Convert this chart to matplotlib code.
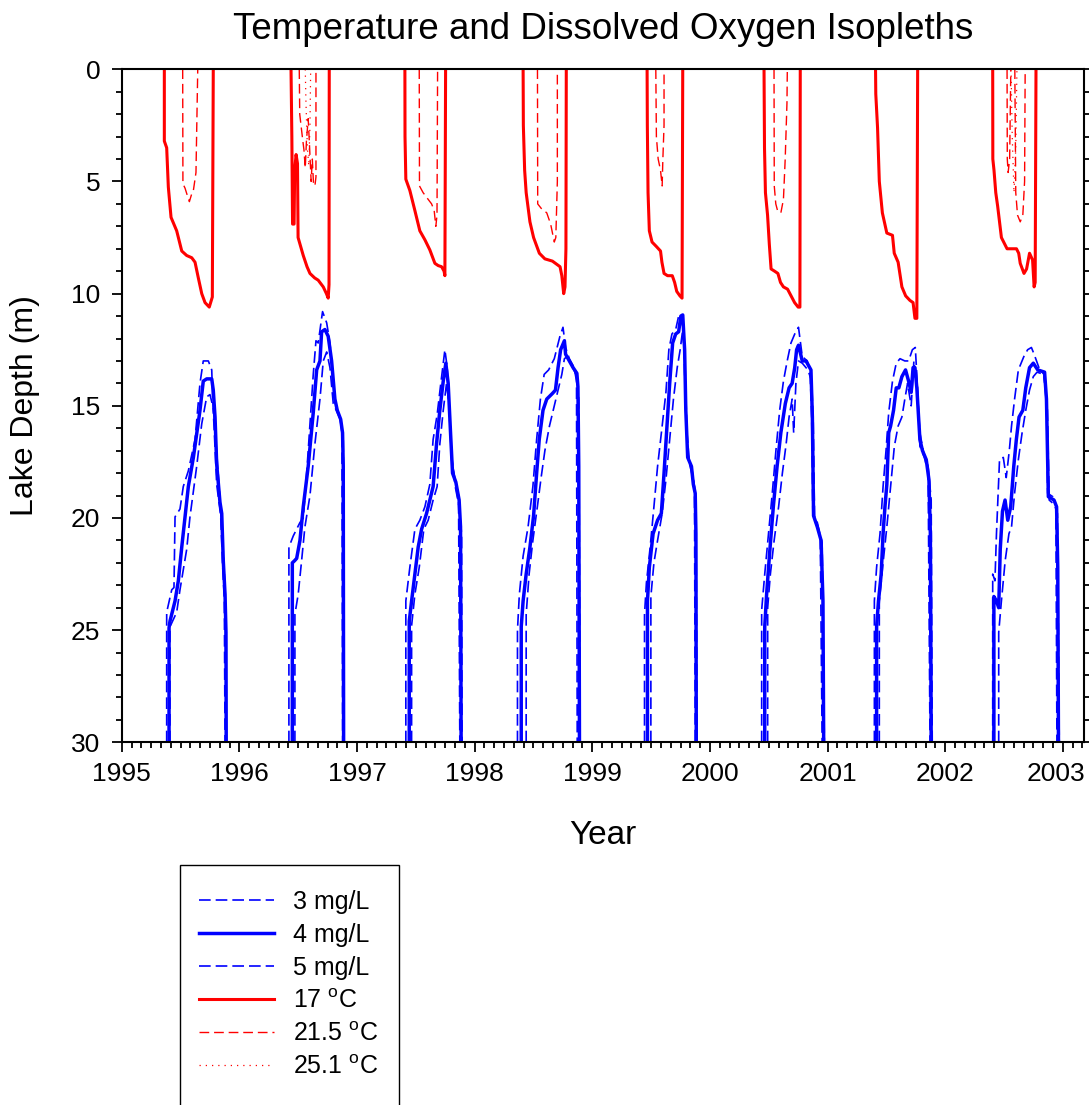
import matplotlib
matplotlib.use('Agg')
import matplotlib.pyplot as plt
from matplotlib.lines import Line2D
from matplotlib.patches import Rectangle
from matplotlib.ticker import MultipleLocator
from matplotlib.transforms import ScaledTranslation

plt.rcParams['font.family'] = ['Liberation Sans', 'DejaVu Sans']
plt.rcParams['mathtext.fontset'] = 'custom'
plt.rcParams['mathtext.rm'] = 'Liberation Sans'

# ==========================================
# Isopleths: (decimal year, depth in m)
# ==========================================
years = list(range(1995, 2004))

temp_17 = {
    1995: [(1995.362, 0), (1995.362, 3.2), (1995.382, 3.5), (1995.396, 5.25), (1995.419, 6.6), (1995.467, 7.2),
           (1995.510, 8.1), (1995.552, 8.3), (1995.595, 8.4), (1995.623, 8.6), (1995.651, 9.3), (1995.680, 10.0),
           (1995.708, 10.4), (1995.744, 10.6), (1995.770, 10.15), (1995.778, 0)],
    1996: [(1996.439, 0), (1996.446, 3.0), (1996.452, 6.9), (1996.465, 6.9), (1996.470, 4.5), (1996.482, 3.8),
           (1996.494, 4.2), (1996.499, 7.5), (1996.510, 7.7), (1996.543, 8.3), (1996.575, 8.8), (1996.600, 9.1),
           (1996.640, 9.3), (1996.670, 9.4), (1996.713, 9.7), (1996.740, 10.0), (1996.755, 10.2), (1996.762, 9.6),
           (1996.764, 0)],
    1997: [(1997.407, 0), (1997.408, 3.0), (1997.415, 4.9), (1997.449, 5.4), (1997.492, 6.3), (1997.534, 7.2),
           (1997.577, 7.6), (1997.619, 8.05), (1997.662, 8.65), (1997.690, 8.75), (1997.719, 8.8), (1997.740, 9.0),
           (1997.747, 9.2), (1997.753, 0)],
    1998: [(1998.412, 0), (1998.414, 2.5), (1998.425, 4.5), (1998.438, 5.5), (1998.470, 6.8), (1998.501, 7.5),
           (1998.550, 8.2), (1998.597, 8.45), (1998.661, 8.55), (1998.726, 8.8), (1998.741, 9.2), (1998.757, 10.0),
           (1998.768, 9.7), (1998.776, 8.0), (1998.779, 0)],
    1999: [(1999.466, 0), (1999.468, 2.5), (1999.474, 5.5), (1999.485, 7.2), (1999.508, 7.7), (1999.545, 7.9),
           (1999.580, 8.1), (1999.592, 8.6), (1999.610, 9.1), (1999.640, 9.2), (1999.680, 9.2), (1999.700, 9.5),
           (1999.718, 9.9), (1999.745, 10.1), (1999.763, 10.2), (1999.769, 0)],
    2000: [(2000.460, 0), (2000.464, 3.5), (2000.472, 5.5), (2000.490, 6.5), (2000.505, 7.8), (2000.520, 8.9),
           (2000.550, 9.0), (2000.578, 9.1), (2000.600, 9.5), (2000.625, 9.7), (2000.660, 9.8), (2000.690, 10.1),
           (2000.720, 10.4), (2000.750, 10.6), (2000.765, 10.6), (2000.768, 0)],
    2001: [(2001.408, 0), (2001.410, 1.1), (2001.425, 2.6), (2001.440, 5.0), (2001.466, 6.4), (2001.504, 7.3),
           (2001.552, 7.4), (2001.567, 8.2), (2001.600, 8.6), (2001.632, 9.7), (2001.664, 10.1), (2001.700, 10.3),
           (2001.727, 10.4), (2001.743, 11.1), (2001.759, 11.1), (2001.766, 0)],
    2002: [(2002.404, 0), (2002.405, 4.0), (2002.415, 4.5), (2002.430, 5.5), (2002.446, 6.1), (2002.478, 7.5),
           (2002.526, 8.0), (2002.606, 8.0), (2002.625, 8.2), (2002.638, 8.65), (2002.670, 9.1), (2002.692, 8.9),
           (2002.717, 8.2), (2002.743, 8.5), (2002.756, 9.7), (2002.765, 9.5), (2002.772, 0)],
}

temp_215 = [
    [(1995.518, 0), (1995.520, 5.1), (1995.538, 5.3), (1995.556, 5.6), (1995.575, 5.9), (1995.592, 5.6),
     (1995.609, 5.4), (1995.631, 4.6), (1995.646, 0)],
    [(1996.509, 0), (1996.513, 2.0), (1996.535, 3.0), (1996.549, 3.6), (1996.560, 4.4), (1996.570, 3.2),
     (1996.585, 2.2), (1996.597, 3.5), (1996.610, 5.0), (1996.620, 4.0), (1996.630, 5.1), (1996.642, 5.2),
     (1996.651, 4.8), (1996.651, 0)],
    [(1997.529, 0), (1997.531, 5.2), (1997.562, 5.5), (1997.605, 5.8), (1997.634, 6.0), (1997.656, 6.3),
     (1997.670, 7.0), (1997.680, 6.5), (1997.685, 0)],
    [(1998.534, 0), (1998.536, 6.0), (1998.566, 6.2), (1998.613, 6.4), (1998.646, 6.9), (1998.677, 7.7),
     (1998.690, 7.5), (1998.703, 5.0), (1998.703, 0)],
    [(1999.540, 0), (1999.545, 3.0), (1999.560, 4.0), (1999.580, 4.5), (1999.594, 5.2), (1999.600, 4.0),
     (1999.610, 2.5), (1999.610, 0)],
    [(2000.545, 0), (2000.547, 5.2), (2000.560, 6.0), (2000.575, 6.3), (2000.603, 6.4), (2000.625, 5.8),
     (2000.640, 4.0), (2000.655, 1.5), (2000.658, 0)],
    [(2002.526, 0), (2002.528, 4.0), (2002.535, 4.6), (2002.548, 4.0), (2002.558, 0)],
    [(2002.592, 0), (2002.600, 5.5), (2002.615, 6.5), (2002.638, 6.8), (2002.660, 6.5), (2002.675, 5.0),
     (2002.680, 0)],
]

temp_251 = [
    [(1996.560, 0), (1996.566, 1.5), (1996.578, 3.5), (1996.590, 4.3), (1996.600, 2.5), (1996.606, 0)],
    [(2002.560, 0), (2002.570, 3.0), (2002.585, 5.5), (2002.600, 3.5), (2002.610, 0)],
]

do_4 = {
    1995: [(1995.402, 30), (1995.402, 24.9), (1995.410, 24.6), (1995.453, 23.7), (1995.481, 22.8), (1995.510, 21.3),
           (1995.566, 18.6), (1995.609, 17.3), (1995.665, 15.2), (1995.693, 13.9), (1995.722, 13.8), (1995.765, 13.8),
           (1995.778, 14.3), (1995.793, 15.5), (1995.807, 17.6), (1995.835, 19.3), (1995.850, 19.8), (1995.863, 21.9),
           (1995.878, 23.4), (1995.886, 25.1), (1995.888, 30)],
    1996: [(1996.450, 30), (1996.450, 22.0), (1996.470, 21.9), (1996.487, 21.8), (1996.515, 21.0), (1996.543, 19.5),
           (1996.585, 17.7), (1996.628, 15.3), (1996.657, 13.4), (1996.685, 13.0), (1996.699, 11.7), (1996.727, 11.6),
           (1996.755, 11.9), (1996.784, 13.0), (1996.812, 14.7), (1996.832, 15.2), (1996.861, 15.6), (1996.877, 16.2),
           (1996.883, 17.7), (1996.886, 30)],
    1997: [(1997.444, 30), (1997.444, 24.6), (1997.464, 23.7), (1997.492, 22.5), (1997.520, 21.3), (1997.549, 20.5),
           (1997.591, 19.8), (1997.619, 19.2), (1997.647, 18.6), (1997.676, 16.7), (1997.704, 15.2), (1997.733, 13.9),
           (1997.755, 13.1), (1997.775, 14.0), (1997.795, 16.2), (1997.812, 18.0), (1997.840, 18.4), (1997.868, 19.2),
           (1997.880, 20.4), (1997.885, 30)],
    1998: [(1998.396, 30), (1998.396, 24.85), (1998.412, 23.7), (1998.438, 22.5), (1998.470, 21.3), (1998.501, 19.9),
           (1998.527, 18.0), (1998.549, 16.5), (1998.581, 15.2), (1998.613, 14.7), (1998.661, 14.45), (1998.687, 14.3),
           (1998.709, 13.3), (1998.731, 12.5), (1998.763, 12.1), (1998.773, 12.7), (1998.805, 13.0), (1998.837, 13.3),
           (1998.869, 13.55), (1998.878, 14.15), (1998.885, 17.7), (1998.891, 30)],
    1999: [(1999.469, 30), (1999.469, 23.7), (1999.485, 22.2), (1999.517, 20.7), (1999.555, 20.1), (1999.587, 19.8),
           (1999.610, 18.0), (1999.635, 15.9), (1999.658, 14.0), (1999.683, 12.2), (1999.709, 11.8), (1999.734, 11.7),
           (1999.753, 11.0), (1999.769, 10.95), (1999.785, 12.5), (1999.795, 15.2), (1999.811, 17.3), (1999.843, 17.7),
           (1999.859, 18.5), (1999.875, 18.9), (1999.881, 20.7), (1999.884, 30)],
    2000: [(2000.466, 30), (2000.466, 24.85), (2000.482, 23.4), (2000.507, 21.6), (2000.539, 19.5), (2000.571, 17.7),
           (2000.603, 16.2), (2000.641, 14.9), (2000.673, 14.2), (2000.699, 14.0), (2000.721, 13.3), (2000.737, 12.5),
           (2000.753, 12.3), (2000.785, 13.0), (2000.817, 13.0), (2000.859, 13.4), (2000.871, 15.5), (2000.881, 19.9),
           (2000.913, 20.4), (2000.945, 21.0), (2000.961, 23.7), (2000.967, 30)],
    2001: [(2001.417, 30), (2001.417, 24.85), (2001.433, 23.7), (2001.456, 22.5), (2001.472, 20.7), (2001.488, 19.5),
           (2001.504, 18.5), (2001.520, 16.2), (2001.536, 15.9), (2001.561, 15.2), (2001.584, 14.2), (2001.606, 14.2),
           (2001.632, 13.7), (2001.663, 13.4), (2001.689, 13.9), (2001.711, 14.4), (2001.727, 13.3), (2001.743, 13.3),
           (2001.759, 14.2), (2001.785, 16.5), (2001.807, 17.0), (2001.839, 17.4), (2001.862, 18.3), (2001.874, 20.7),
           (2001.881, 30)],
    2002: [(2002.414, 30), (2002.414, 23.5), (2002.436, 23.7), (2002.455, 24.0), (2002.468, 21.4), (2002.487, 19.7),
           (2002.509, 19.2), (2002.532, 20.1), (2002.557, 19.5), (2002.583, 17.7), (2002.605, 16.5), (2002.628, 15.5),
           (2002.660, 15.2), (2002.685, 14.2), (2002.717, 13.3), (2002.749, 13.1), (2002.787, 13.4), (2002.845, 13.5),
           (2002.861, 14.7), (2002.877, 19.05), (2002.925, 19.2), (2002.947, 19.5), (2002.957, 22.2), (2002.963, 30)],
}

do_5 = {
    1995: [(1995.382, 30), (1995.382, 24.2), (1995.425, 23.2), (1995.444, 23.1), (1995.453, 19.95), (1995.495, 19.6),
           (1995.523, 18.6), (1995.566, 17.9), (1995.623, 16.5), (1995.665, 14.0), (1995.693, 13.0), (1995.736, 13.0),
           (1995.765, 13.4), (1995.773, 14.7), (1995.787, 16.2), (1995.807, 18.5), (1995.841, 19.9), (1995.858, 22.2),
           (1995.872, 23.7), (1995.878, 30)],
    1996: [(1996.421, 30), (1996.421, 21.3), (1996.458, 20.8), (1996.515, 20.2), (1996.543, 20.0), (1996.557, 19.1),
           (1996.585, 17.0), (1996.628, 13.6), (1996.651, 12.1), (1996.670, 12.2), (1996.707, 10.8), (1996.742, 11.3),
           (1996.770, 12.2), (1996.798, 14.0), (1996.821, 15.0), (1996.855, 15.5), (1996.872, 16.2), (1996.878, 30)],
    1997: [(1997.415, 30), (1997.415, 23.7), (1997.449, 22.2), (1997.492, 20.5), (1997.534, 20.1), (1997.577, 19.5),
           (1997.619, 18.5), (1997.647, 16.5), (1997.681, 15.4), (1997.710, 14.1), (1997.747, 12.5), (1997.767, 13.3),
           (1997.784, 15.2), (1997.804, 17.4), (1997.835, 18.3), (1997.863, 19.0), (1997.874, 30)],
    1998: [(1998.364, 30), (1998.364, 25.0), (1998.380, 23.4), (1998.412, 21.7), (1998.454, 20.4), (1998.495, 18.6),
           (1998.527, 16.5), (1998.559, 14.7), (1998.591, 13.6), (1998.629, 13.4), (1998.677, 12.9), (1998.725, 11.9),
           (1998.751, 11.5), (1998.773, 12.4), (1998.805, 12.9), (1998.846, 13.3), (1998.866, 13.9), (1998.872, 30)],
    1999: [(1999.444, 30), (1999.444, 24.3), (1999.460, 22.9), (1999.492, 21.3), (1999.524, 19.5), (1999.555, 17.7),
           (1999.594, 15.9), (1999.626, 14.4), (1999.651, 12.5), (1999.677, 11.8), (1999.709, 11.6), (1999.734, 11.0),
           (1999.760, 10.9), (1999.779, 12.2), (1999.792, 15.0), (1999.811, 17.1), (1999.849, 17.9), (1999.869, 18.6),
           (1999.875, 30)],
    2000: [(2000.440, 30), (2000.440, 24.1), (2000.466, 22.5), (2000.498, 20.7), (2000.530, 18.9), (2000.561, 17.0),
           (2000.593, 15.2), (2000.625, 13.9), (2000.657, 13.0), (2000.689, 12.2), (2000.721, 11.8), (2000.753, 11.5),
           (2000.785, 12.8), (2000.827, 13.0), (2000.852, 13.5), (2000.865, 15.5), (2000.875, 19.8), (2000.913, 20.2),
           (2000.938, 20.8), (2000.954, 30)],
    2001: [(2001.398, 30), (2001.398, 23.7), (2001.417, 22.2), (2001.446, 20.7), (2001.472, 18.6), (2001.497, 17.0),
           (2001.520, 15.3), (2001.552, 13.9), (2001.584, 13.1), (2001.616, 12.9), (2001.657, 13.0), (2001.689, 13.0),
           (2001.721, 12.5), (2001.746, 12.4), (2001.765, 14.2), (2001.785, 16.8), (2001.823, 17.3), (2001.855, 18.0),
           (2001.871, 30)],
    2002: [(2002.404, 30), (2002.404, 22.5), (2002.423, 22.8), (2002.436, 20.7), (2002.462, 17.4), (2002.494, 17.3),
           (2002.519, 18.2), (2002.545, 17.0), (2002.564, 15.9), (2002.590, 14.7), (2002.622, 13.4), (2002.669, 12.8),
           (2002.701, 12.5), (2002.733, 12.4), (2002.756, 12.7), (2002.797, 13.3), (2002.839, 13.6), (2002.861, 14.9),
           (2002.871, 18.9), (2002.915, 19.05), (2002.941, 19.4), (2002.950, 30)],
}

do_3 = {
    1995: [(1995.410, 30), (1995.410, 24.85), (1995.467, 24.2), (1995.495, 23.2), (1995.552, 21.4), (1995.580, 19.95),
           (1995.637, 17.7), (1995.680, 15.8), (1995.722, 14.6), (1995.750, 14.5), (1995.778, 15.1), (1995.801, 16.6),
           (1995.821, 18.1), (1995.844, 19.9), (1995.863, 21.5), (1995.880, 23.4), (1995.889, 30)],
    1996: [(1996.472, 30), (1996.472, 24.3), (1996.500, 23.4), (1996.529, 21.9), (1996.557, 20.4), (1996.600, 19.0),
           (1996.642, 16.7), (1996.685, 14.7), (1996.713, 13.0), (1996.742, 12.6), (1996.770, 13.3), (1996.798, 14.9),
           (1996.832, 15.3), (1996.866, 15.7), (1996.883, 16.5), (1996.891, 30)],
    1997: [(1997.464, 30), (1997.464, 24.8), (1997.492, 23.4), (1997.529, 22.2), (1997.568, 20.5), (1997.605, 20.1),
           (1997.647, 19.2), (1997.681, 18.6), (1997.704, 16.7), (1997.733, 15.2), (1997.761, 14.0), (1997.784, 15.0),
           (1997.804, 17.2), (1997.835, 18.6), (1997.868, 19.5), (1997.889, 20.7), (1997.893, 30)],
    1998: [(1998.438, 30), (1998.438, 24.3), (1998.463, 22.5), (1998.495, 21.0), (1998.533, 19.5), (1998.565, 18.2),
           (1998.597, 17.0), (1998.636, 15.9), (1998.677, 15.0), (1998.709, 14.3), (1998.741, 13.6), (1998.763, 12.9),
           (1998.789, 12.8), (1998.827, 13.2), (1998.869, 13.7), (1998.885, 14.7), (1998.897, 30)],
    1999: [(1999.498, 30), (1999.498, 23.5), (1999.524, 22.0), (1999.555, 21.0), (1999.594, 19.8), (1999.626, 18.3),
           (1999.658, 16.5), (1999.690, 14.7), (1999.722, 13.3), (1999.747, 12.5), (1999.769, 11.6), (1999.789, 13.3),
           (1999.805, 16.2), (1999.827, 17.6), (1999.859, 18.3), (1999.881, 19.1), (1999.891, 30)],
    2000: [(2000.491, 30), (2000.491, 24.0), (2000.514, 22.5), (2000.546, 21.0), (2000.584, 19.5), (2000.616, 18.0),
           (2000.648, 16.7), (2000.673, 15.5), (2000.699, 14.7), (2000.712, 16.2), (2000.731, 14.0), (2000.753, 13.0),
           (2000.785, 13.1), (2000.833, 13.4), (2000.865, 13.9), (2000.878, 15.6), (2000.890, 20.1), (2000.922, 20.5),
           (2000.954, 21.1), (2000.973, 30)],
    2001: [(2001.440, 30), (2001.440, 23.7), (2001.472, 22.0), (2001.504, 20.4), (2001.536, 18.6), (2001.568, 16.8),
           (2001.600, 15.9), (2001.632, 15.5), (2001.657, 14.7), (2001.680, 14.0), (2001.711, 15.0), (2001.734, 13.0),
           (2001.759, 14.0), (2001.785, 16.2), (2001.817, 17.1), (2001.855, 17.7), (2001.881, 19.2), (2001.890, 30)],
    2002: [(2002.455, 30), (2002.455, 25.1), (2002.478, 23.7), (2002.510, 21.9), (2002.542, 20.7), (2002.564, 20.4),
           (2002.590, 18.9), (2002.622, 17.4), (2002.654, 16.2), (2002.685, 15.2), (2002.717, 14.3), (2002.749, 13.7),
           (2002.781, 13.5), (2002.839, 13.6), (2002.868, 15.0), (2002.884, 19.2), (2002.928, 19.4), (2002.954, 19.8),
           (2002.970, 30)],
}

RED = '#ff0000'
BLUE = '#0000ff'
BLUE_DASH = dict(color=BLUE, lw=1.2, dashes=(7, 3))
RED_DASH = dict(color=RED, lw=1.0, dashes=(7, 3.5))
RED_DOT = dict(color=RED, lw=0.9, dashes=(1, 4))


def draw(ax, pts, **kw):
    t, d = zip(*pts)
    ax.plot(t, d, **kw)


fig = plt.figure(figsize=(10.89, 11.05), dpi=100)
ax = fig.add_axes([0.1118, 0.3282, 0.8836, 0.6091])

for pts in do_5.values():
    draw(ax, pts, **BLUE_DASH)
for pts in do_3.values():
    draw(ax, pts, **BLUE_DASH)
for pts in do_4.values():
    draw(ax, pts, color=BLUE, lw=2.5)

for pts in temp_251:
    draw(ax, pts, **RED_DOT)
for pts in temp_215:
    draw(ax, pts, **RED_DASH)
for pts in temp_17.values():
    draw(ax, pts, color=RED, lw=2.2)

ax.set_xlim(1995, 2003.18)
ax.set_ylim(30, 0)
ax.set_xticks(years)
ax.set_xticklabels([str(y) for y in years])
ax.xaxis.set_minor_locator(MultipleLocator(1 / 12))
ax.yaxis.set_major_locator(MultipleLocator(5))
ax.yaxis.set_minor_locator(MultipleLocator(1))

for s in ax.spines.values():
    s.set_linewidth(1.5)
ax.tick_params(which='both', direction='out', width=1.3, labelsize=19, right=True, top=False)
ax.tick_params(which='major', length=7.5)
ax.tick_params(which='minor', length=4.5)
ax.tick_params(axis='x', pad=7)
ax.tick_params(axis='y', pad=8)

# last year label sits on the figure edge, nudge it in a little
last = ax.get_xticklabels()[-1]
last.set_transform(last.get_transform() + ScaledTranslation(-5 / 72, 0, fig.dpi_scale_trans))

ax.set_title('Temperature and Dissolved Oxygen Isopleths', fontsize=26.5, pad=22)
ax.set_xlabel('Year', fontsize=24)
ax.set_ylabel('Lake Depth (m)', fontsize=23)
ax.xaxis.set_label_coords(0.5, -0.115)
ax.yaxis.set_label_coords(-0.085, 0.5)

# legend box runs off the bottom of the figure
fig.patches.append(Rectangle((0.1653, -0.02), 0.2014, 0.2372, transform=fig.transFigure,
                             fill=False, edgecolor='black', lw=1.0))
handles = [
    Line2D([], [], **BLUE_DASH),
    Line2D([], [], color=BLUE, lw=2.5),
    Line2D([], [], **BLUE_DASH),
    Line2D([], [], color=RED, lw=2.2),
    Line2D([], [], **RED_DASH),
    Line2D([], [], **RED_DOT),
]
labels = ['3 mg/L', '4 mg/L', '5 mg/L', '17 $^\\mathrm{o}$C', '21.5 $^\\mathrm{o}$C', '25.1 $^\\mathrm{o}$C']
fig.legend(handles, labels, loc='upper left', bbox_to_anchor=(0.1827, 0.1950), frameon=False,
           fontsize=18, handlelength=3.0, handletextpad=0.76, labelspacing=0.365,
           borderpad=0, borderaxespad=0)

fig.savefig('out.png', dpi=100)
